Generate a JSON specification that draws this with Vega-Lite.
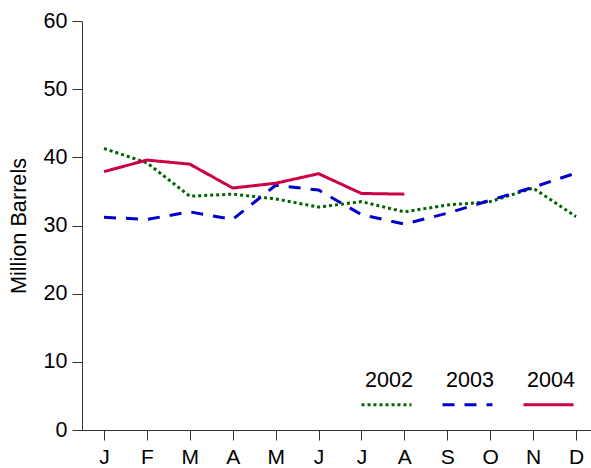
{
  "$schema": "https://vega.github.io/schema/vega-lite/v6.json",
  "width": 509,
  "height": 409,
  "autosize": {"type": "none"},
  "padding": {"left": 82, "top": 21, "right": 0, "bottom": 38},
  "background": "white",
  "config": {
    "font": "Liberation Sans",
    "view": {"stroke": null},
    "axis": {"domainColor": "#333333", "tickColor": "#333333", "labelColor": "#000000", "titleColor": "#000000", "grid": false}
  },
  "data": {
    "values": [
      {"month": 1, "series": "2002", "barrels": 41.3},
      {"month": 2, "series": "2002", "barrels": 39.2},
      {"month": 3, "series": "2002", "barrels": 34.3},
      {"month": 4, "series": "2002", "barrels": 34.6},
      {"month": 5, "series": "2002", "barrels": 33.9},
      {"month": 6, "series": "2002", "barrels": 32.7},
      {"month": 7, "series": "2002", "barrels": 33.5},
      {"month": 8, "series": "2002", "barrels": 32.0},
      {"month": 9, "series": "2002", "barrels": 33.0},
      {"month": 10, "series": "2002", "barrels": 33.5},
      {"month": 11, "series": "2002", "barrels": 35.5},
      {"month": 12, "series": "2002", "barrels": 31.3},
      {"month": 1, "series": "2003", "barrels": 31.2},
      {"month": 2, "series": "2003", "barrels": 30.9},
      {"month": 3, "series": "2003", "barrels": 32.0},
      {"month": 4, "series": "2003", "barrels": 30.9},
      {"month": 5, "series": "2003", "barrels": 35.9},
      {"month": 6, "series": "2003", "barrels": 35.2},
      {"month": 7, "series": "2003", "barrels": 31.6},
      {"month": 8, "series": "2003", "barrels": 30.2},
      {"month": 9, "series": "2003", "barrels": 31.8},
      {"month": 10, "series": "2003", "barrels": 33.7},
      {"month": 11, "series": "2003", "barrels": 35.6},
      {"month": 12, "series": "2003", "barrels": 37.7},
      {"month": 1, "series": "2004", "barrels": 37.9},
      {"month": 2, "series": "2004", "barrels": 39.6},
      {"month": 3, "series": "2004", "barrels": 39.0},
      {"month": 4, "series": "2004", "barrels": 35.5},
      {"month": 5, "series": "2004", "barrels": 36.2},
      {"month": 6, "series": "2004", "barrels": 37.6},
      {"month": 7, "series": "2004", "barrels": 34.7},
      {"month": 8, "series": "2004", "barrels": 34.6}
    ]
  },
  "mark": {"type": "line", "strokeWidth": 3},
  "encoding": {
    "x": {
      "field": "month",
      "type": "quantitative",
      "scale": {"domain": [0.487, 12.35], "nice": false, "zero": false},
      "axis": {
        "title": null,
        "values": [1, 2, 3, 4, 5, 6, 7, 8, 9, 10, 11, 12],
        "labelExpr": "['J','F','M','A','M','J','J','A','S','O','N','D'][datum.value-1]",
        "tickSize": 10,
        "labelFontSize": 21,
        "labelPadding": 6,
        "labelFlush": false,
        "labelOverlap": false
      }
    },
    "y": {
      "field": "barrels",
      "type": "quantitative",
      "scale": {"domain": [0, 60], "nice": false},
      "axis": {
        "title": "Million Barrels",
        "titleFontSize": 21.7,
        "titleFontWeight": "normal",
        "titlePadding": 13,
        "values": [0, 10, 20, 30, 40, 50, 60],
        "tickSize": 10,
        "labelFontSize": 21.5,
        "labelPadding": 5
      }
    },
    "color": {
      "field": "series",
      "type": "nominal",
      "scale": {"domain": ["2002", "2003", "2004"], "range": ["#006400", "#0000CD", "#CC0044"]},
      "legend": {
        "orient": "none",
        "legendX": 278,
        "legendY": 357,
        "direction": "horizontal",
        "title": null,
        "symbolType": "stroke",
        "symbolSize": 2500,
        "symbolStrokeWidth": 3,
        "labelFontSize": 21.5,
        "labelColor": "#000000",
        "labelAlign": "center",
        "labelOffset": 0,
        "columnPadding": 18,
        "encode": {"labels": {"update": {"dx": {"value": -24}, "dy": {"value": -24}}}}
      }
    },
    "strokeDash": {
      "field": "series",
      "type": "nominal",
      "scale": {"domain": ["2002", "2003", "2004"], "range": [[3, 3], [12, 10], [1, 0]]},
      "legend": {
        "orient": "none",
        "legendX": 278,
        "legendY": 357,
        "direction": "horizontal",
        "title": null,
        "symbolType": "stroke",
        "symbolSize": 2500,
        "symbolStrokeWidth": 3,
        "labelFontSize": 21.5,
        "labelColor": "#000000",
        "labelAlign": "center",
        "labelOffset": 0,
        "columnPadding": 18,
        "encode": {"labels": {"update": {"dx": {"value": -24}, "dy": {"value": -24}}}}
      }
    }
  }
}
